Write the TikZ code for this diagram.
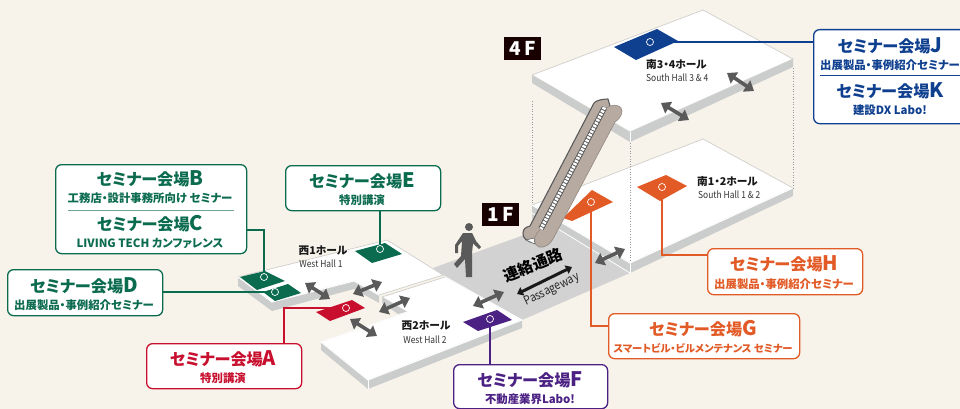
\documentclass[tikz,border=0pt]{standalone}
\usepackage{fontspec}
\usetikzlibrary{arrows.meta}
\newfontfamily\jp[RawFeature=+palt]{Noto Sans CJK JP}
\newfontfamily\jpn[FakeStretch=0.88]{Noto Sans CJK JP}
\definecolor{bgc}{HTML}{F7F3EA}
\definecolor{wallc}{HTML}{CBCDCC}
\definecolor{passc}{HTML}{D2D2D2}
\definecolor{edgec}{HTML}{CFCFCB}
\definecolor{arrc}{HTML}{5A5A5A}
\definecolor{grn}{HTML}{0B6B4F}
\definecolor{redc}{HTML}{C8102E}
\definecolor{pur}{HTML}{4B2183}
\definecolor{blu}{HTML}{0F3F8F}
\definecolor{org}{HTML}{E25A26}
\definecolor{esc}{HTML}{B6AAA1}
\newcommand{\semttl}[1]{{\fontsize{16.2}{18}\selectfont セミナー会場{\fontsize{20}{18}\selectfont #1}}}
\tikzset{
  x=1pt,y=-1pt,
  hall/.style={fill=white,draw=edgec,line width=0.7pt,line join=round},
  wall/.style={fill=wallc,draw=none},
  sbox/.style={draw=#1,fill=white,line width=1.3pt,rounded corners=6pt,minimum width=0,inner sep=0pt,anchor=north west},
  ttl/.style={text=#1,font=\jp\bfseries,inner sep=0pt},
  subt/.style={text=#1,font=\jp\bfseries\fontsize{11.4}{12}\selectfont,inner sep=0pt},
  conn/.style={draw=#1,line width=1.3pt,line join=miter},
  halo/.style={draw=white,line width=2.6pt},
  pin/.style={circle,draw=white,fill=#1,line width=0.7pt,minimum size=7pt,inner sep=0pt},
  seat/.style={fill=#1,draw=none},
  dbl/.style={draw=arrc,line width=3.6pt,{Triangle[length=9pt,width=13pt]}-{Triangle[length=9pt,width=13pt]}},
  hj/.style={font=\jp\bfseries\fontsize{10.7}{12}\selectfont,text=black!90,inner sep=0pt},
  he/.style={font=\jpn\fontsize{9.6}{11}\selectfont,text=black!80,inner sep=0pt},
  fl/.style={fill=black!90!red,text=white,font=\jp\bfseries\fontsize{19}{19}\selectfont,inner sep=0pt},
  dots/.style={draw=gray!80,line width=0.8pt,dash pattern=on 1pt off 1.6pt},
  pjt/.style={rotate=22,inner sep=0pt,font=\jp\bfseries\fontsize{15.5}{16}\selectfont,text=black},
  pet/.style={rotate=26,inner sep=0pt,font=\jpn\fontsize{12}{12}\selectfont,text=black!85},
}
\begin{document}
\begin{tikzpicture}
\useasboundingbox (0,0) rectangle (960,409);
\clip (0,0) rectangle (960,409);
\fill[bgc] (0,0) rectangle (960,409);

% South hall 3-4 (4F)
\fill[wall] (532,75)--(630,132)--(630,142)--(532,83)--cycle;
\fill[wall] (793,59)--(630,132)--(630,142)--(793,67)--cycle;
\draw[hall] (532,75)--(703,10)--(793,59)--(630,132)--cycle;
\draw[draw=white,line width=0.8pt] (630,132)--(630,142);

% South hall 1-2 (1F)
\fill[wall] (793,188)--(630,263)--(630,273)--(793,196)--cycle;
\fill[passc] (433,268)--(532,232)--(532,213)--(630,273)--(522,320)--(447,277)--(443,275)--cycle;
\fill[wall] (532,205)--(630,263)--(630,273)--(532,213)--cycle;
\draw[white,line width=0.8pt] (532,213)--(630,273);
\draw[white,line width=0.8pt] (630,263)--(630,273);
\draw[hall] (532,205)--(703,139)--(793,188)--(630,263)--cycle;
\draw[draw=white,line width=1pt] (532,205)--(630,263)--(793,188);

% vertical dotted guides
\draw[dots] (532,101)--(532,205);
\draw[dots] (630,143)--(630,262);
\draw[dots] (793,68)--(793,188);

% West hall 1
\fill[wall] (238,277)--(272,302)--(272,311)--(238,286)--cycle;
\fill[wall] (272,302)--(354,281)--(354,289)--(272,311)--cycle;
\fill[wall] (354,281)--(379,295)--(379,303)--(354,289)--cycle;
\draw[hall] (238,277)--(387,240)--(443,275)--(379,295)--(354,281)--(272,302)--cycle;
\draw[draw=white,line width=1pt] (238,277)--(272,302)--(354,281)--(379,295);

% West hall 2
\fill[wall] (382,297)--(407,312)--(398,314)--(382,303)--cycle;
\fill[wall] (321,342)--(368,380)--(368,389)--(321,350)--cycle;
\fill[wall] (522,320)--(368,380)--(368,389)--(522,328)--cycle;
\draw[hall] (445,277)--(382,297)--(407,312)--(321,342)--(368,380)--(522,320)--cycle;
\draw[draw=white,line width=1pt] (407,312)--(321,342)--(368,380)--(522,320)--(445,277);
\draw[draw=white,line width=0.8pt] (368,380)--(368,389);

% Seat areas
\fill[seat=grn] (240,277)--(265,271)--(285,281)--(257,290)--cycle;
\fill[seat=grn] (263,292)--(288,284)--(301,293)--(275,301)--cycle;
\fill[seat=grn] (355,251)--(385,243)--(402,254)--(372,263)--cycle;
\fill[seat=redc] (316,312)--(352,300)--(365,308)--(330,321)--cycle;
\fill[seat=pur] (463,322)--(497,310)--(512,320)--(478,331)--cycle;
\fill[seat=org] (563,218)--(592,190)--(613,202)--(572,221)--cycle;
\fill[seat=org] (637,187)--(666,175)--(687,186)--(660,201)--cycle;
\fill[seat=blu] (614,47)--(657,29)--(678,41)--(636,60)--cycle;

% Escalator
\fill[esc,draw=arrc,line width=1.1pt,line join=round]
  (594,103) .. controls (596,100) and (604,99) .. (608,99) -- (610,106)
  -- (541,232) -- (536,238) -- (534,243) .. controls (528,242) and (522,238) .. (523,233)
  .. controls (523,229) and (526,227) .. (530,226) -- cycle;
\fill[esc,draw=esc!80!black,line width=0.6pt,line join=round]
  (610,106) .. controls (616,104) and (622,106) .. (622,111)
  .. controls (622,116) and (618,120) .. (615,122)
  -- (553,239) .. controls (550,245) and (544,248) .. (539,247)
  .. controls (534,245) and (533,238) .. (537,233) -- (540,230) -- (604,109) -- cycle;
\draw[draw=arrc,line width=5.5pt] (604.5,107.5)--(541,229);
\draw[draw=white,line width=3.6pt,dash pattern=on 2.2pt off 1.1pt] (604.5,107.5)--(541,229);
\fill[white,draw=arrc,line width=0.5pt] (526,240)--(534,238)--(535,244)--cycle;

% Person
\fill[arrc] (469,227) circle[radius=4];
\fill[arrc] (463,233)--(472,233)--(476,241)--(481,247)--(479,249)--(473,243.5)--(472,253)--(472,277)--(466,277)--(465,259)--(457,268)--(454,264)--(461,256)--(462,241)--(458,246)--(458,253)--(455,253)--(455,245)--cycle;

% Transfer arrows
\coordinate (a1s) at (305,283); \coordinate (a1e) at (330,299);
\coordinate (a2s) at (353,294); \coordinate (a2e) at (382,282);
\coordinate (a3s) at (379,312); \coordinate (a3e) at (410,298);
\coordinate (a4s) at (350,319); \coordinate (a4e) at (377,336);
\coordinate (a5s) at (473,306); \coordinate (a5e) at (504,292);
\coordinate (a6s) at (595,263); \coordinate (a6e) at (625,249);
\coordinate (a7s) at (727,73);  \coordinate (a7e) at (754,91);
\coordinate (a8s) at (661,103); \coordinate (a8e) at (689,120);
\foreach \n in {1,...,8} {\draw[dbl] (a\n s)--(a\n e);}

% Passageway sign
\node[pjt] (pj) at (533,265) {連絡通路};
\coordinate (pa) at (517,294); \coordinate (pb) at (572,267);
\draw[draw=black!90,line width=3pt,{Triangle[length=6pt,width=9pt]}-{Triangle[length=6pt,width=9pt]}] (pa)--(pb);
\node[pet] (pe) at (552,290) {Passageway};

% Hall labels
\node[hj] (w1j) at (323,251) {西1ホール};
\node[he] (w1e) at (321,264) {West Hall 1};
\node[hj] (w2j) at (426,326) {西2ホール};
\node[he] (w2e) at (425,340) {West Hall 2};
\node[hj,anchor=west] (s12j) at (697,181) {南1・2ホール};
\node[he,anchor=west] (s12e) at (698,195) {South Hall 1 \& 2};
\node[hj,anchor=west] (s34j) at (646,64) {南3・4ホール};
\node[he,anchor=west] (s34e) at (646,78) {South Hall 3 \& 4};

% Floor tags
\node[fl,minimum width=37pt,minimum height=23pt] (f4) at (522.5,48.5) {4\,F};
\node[fl,minimum width=37pt,minimum height=23pt] (f1) at (500.5,214.5) {1\,F};

% Boxes
\node[sbox=grn,minimum width=191pt,minimum height=89pt] (bc) at (55,164) {};
\node[sbox=grn,minimum width=155pt,minimum height=46pt] (dbox) at (7,269) {};
\node[sbox=grn,minimum width=155pt,minimum height=45pt] (ebox) at (285,165) {};
\node[sbox=redc,minimum width=155pt,minimum height=45pt] (abox) at (146,343) {};
\node[sbox=pur,minimum width=154pt,minimum height=44pt] (fbox) at (453,364) {};
\node[sbox=org,minimum width=191pt,minimum height=45pt] (gbox) at (608,313) {};
\node[sbox=org,minimum width=155pt,minimum height=46pt] (hbox) at (707,248) {};
\node[sbox=blu,minimum width=160pt,minimum height=94pt] (jk) at (813,29) {};

% Box attachment points
\coordinate (pb1) at (264,277);
\coordinate (pd1) at (275,292);
\coordinate (pe1) at (380,249);
\coordinate (pa1) at (346,308);
\coordinate (pf1) at (490,319);
\coordinate (pg1) at (591,202);
\coordinate (ph1) at (662,187);
\coordinate (pj1) at (650,42);
\coordinate (bcp) at (246,230);
\coordinate (dp) at (162,292);
\coordinate (ap) at (284,343);
\coordinate (gp) at (608,326);
\coordinate (hp) at (707,255);
\coordinate (jp) at (813,42);
\coordinate (gk) at (591,212);
\coordinate (hk) at (662,199);
\coordinate (jk2) at (672,42);
\coordinate (dk) at (262,292);
\coordinate (ak) at (325,308);

% Connectors
\draw[halo] (pg1)--(gk);
\draw[halo] (ph1)--(hk);
\draw[halo] (pj1)--(jk2);
\draw[halo] (pd1)--(dk);
\draw[halo] (pa1)--(ak);
\draw[conn=grn] (bcp)-|(pb1);
\draw[conn=grn] (dp)--(pd1);
\draw[conn=grn] (ebox.south -| pe1)--(pe1);
\draw[conn=redc] (ap)|-(pa1);
\draw[conn=pur] (fbox.north -| pf1)--(pf1);
\draw[conn=org] (gp)-|(pg1);
\draw[conn=org] (hp)-|(ph1);
\draw[conn=blu] (jp)--(pj1);
\foreach \p/\c in {pb1/grn,pd1/grn,pe1/grn,pa1/redc,pf1/pur,pg1/org,ph1/org,pj1/blu}
  {\node[pin=\c] at (\p) {};}

% Box text
\node[ttl=grn] (t1) at (150,179) {\semttl{B}};
\node[subt=grn] (t2) at (150,198) {工務店・設計事務所向け セミナー};
\coordinate (d1a) at (68,210); \coordinate (d1b) at (234,210);
\draw[draw=grn!60,line width=1pt] (d1a)--(d1b);
\node[ttl=grn] (t3) at (150,224) {\semttl{C}};
\node[subt=grn] (t4) at (150,243) {LIVING TECH カンファレンス};
\node[ttl=grn] (t5) at (84,286) {\semttl{D}};
\node[subt=grn] (t6) at (84,305) {出展製品・事例紹介セミナー};
\node[ttl=grn] (t7) at (362,181) {\semttl{E}};
\node[subt=grn] (t8) at (362,200) {特別講演};
\node[ttl=redc] (t9) at (223,359) {\semttl{A}};
\node[subt=redc] (t10) at (223,378) {特別講演};
\node[ttl=pur] (t11) at (530,380) {\semttl{F}};
\node[subt=pur] (t12) at (530,399) {不動産業界Labo!};
\node[ttl=org] (t13) at (703,329) {\semttl{G}};
\node[subt=org,font=\jp\bfseries\fontsize{10.3}{12}\selectfont] (t14) at (703,348) {スマートビル・ビルメンテナンス セミナー};
\node[ttl=org] (t15) at (784,264) {\semttl{H}};
\node[subt=org] (t16) at (784,284) {出展製品・事例紹介セミナー};
\node[ttl=blu] (t17) at (890,46) {\semttl{J}};
\node[subt=blu] (t18) at (890,65) {出展製品・事例紹介セミナー};
\coordinate (d2a) at (820,76); \coordinate (d2b) at (960,76);
\draw[draw=blu,line width=1pt] (d2a)--(d2b);
\node[ttl=blu] (t19) at (890,91) {\semttl{K}};
\node[subt=blu] (t20) at (890,110) {建設DX Labo!};
\end{tikzpicture}
\end{document}
